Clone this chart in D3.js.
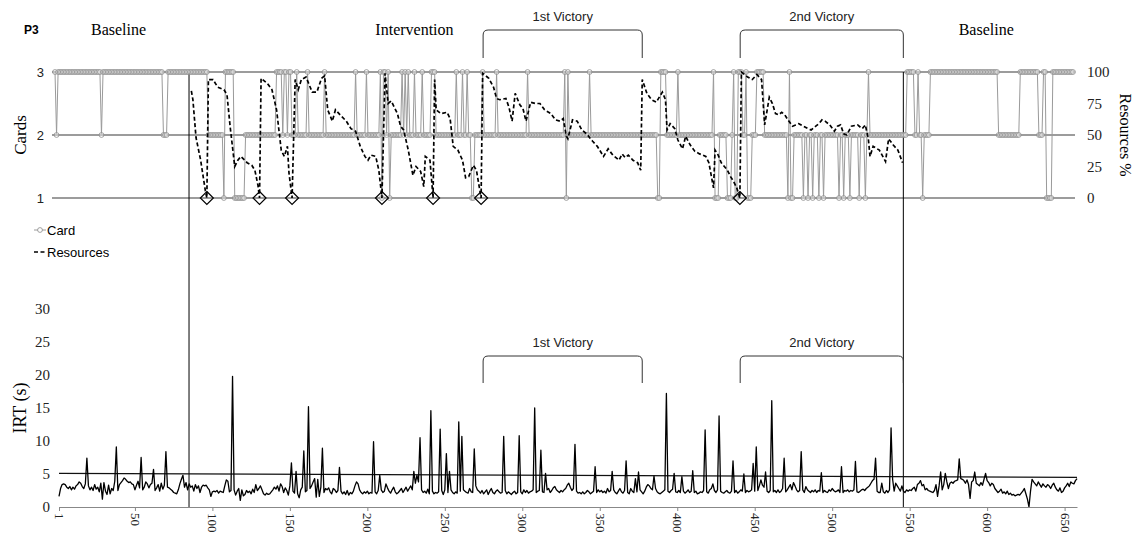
<!DOCTYPE html>
<html lang="en">
<head>
  <meta charset="UTF-8">
  <title>P3 Cards, Resources and IRT</title>
  <script src="https://d3js.org/d3.v7.min.js"></script>
  <style>
    body { margin: 0; background: #fff; }
    svg { display: block; }
  </style>
</head>
<body>
<svg id="chart" width="1141" height="538"></svg>
<script>
// ---- data ----
const nTrials = 658;

// card choice per trial as [level, run length]
const cardRuns = [
  [3,1],[2,1],[3,28],[2,1],[3,39],[2,3],[3,26],
  [2,10],[1,1],[3,6],[1,7],[2,20],
  [3,4],[2,1],[3,2],[2,1],[3,2],[2,3],[3,1],[2,6],[3,1],[2,10],[3,1],
  [2,19],[3,1],[2,6],[3,1],[2,8],
  [3,1],[1,1],[3,2],[2,1],[3,1],[1,1],[2,7],
  [3,1],[2,1],[3,1],[2,1],[3,1],[2,3],[3,1],[2,4],[3,1],[2,5],
  [3,3],[2,13],[3,1],[2,3],[3,1],[2,2],[3,1],[2,2],[1,2],[2,5],
  [3,1],[2,8],[3,1],[2,19],[3,1],[2,23],
  [3,1],[1,1],[3,1],[2,13],[3,1],[2,43],
  [1,2],[3,4],[2,7],[3,1],[2,22],
  [3,1],[1,3],[2,5],[1,3],[2,1],[3,1],[1,2],[3,3],
  [2,2],[3,1],[1,3],[2,3],[3,5],[2,15],
  [1,1],[3,1],[1,2],[2,6],
  [1,1],[2,2],[1,1],[2,2],[1,1],[2,3],[1,1],[2,2],[1,1],[2,9],[1,1],[2,2],
  [1,1],[2,3],[1,1],[2,5],[1,1],[2,3],[1,1],[2,1],[3,1],[2,22],
  [2,2],[3,5],[2,2],[3,1],[2,2],[1,1],[2,4],[3,44],[2,14],[3,12],[2,3],[3,2],[1,4],[3,14]
];

// resources % as [trial, value]
const resources = [
  [89,85],[90,78],[92,48],[95,30],[98,6],[99,0],[100,94],[103,94],[106,88],[110,86],[112,82],[114,57],
  [117,25],[119,30],[121,33],[125,28],[128,26],[130,22],[132,10],[133,0],[134,95],[138,91],[141,86],
  [144,70],[147,38],[149,33],[151,41],[152,20],[154,0],[156,94],[158,86],[160,94],[163,96],[167,84],
  [170,84],[173,95],[175,97],[177,70],[180,61],[182,70],[185,66],[189,61],[192,55],[195,53],[198,41],
  [201,33],[203,30],[205,34],[208,33],[210,22],[212,0],[214,99],[216,75],[218,77],[222,67],[224,57],
  [226,54],[229,38],[232,18],[234,25],[237,21],[239,9],[240,33],[243,30],[245,0],[246,94],[247,70],
  [250,67],[254,68],[256,63],[258,41],[261,38],[264,30],[266,16],[268,17],[271,26],[273,22],[276,0],
  [277,99],[281,95],[284,88],[286,79],[288,78],[292,79],[294,72],[296,61],[298,83],[301,74],[303,71],
  [305,61],[308,76],[311,75],[314,75],[317,70],[321,67],[324,62],[327,61],[329,63],[331,49],[332,47],
  [335,62],[338,61],[341,54],[344,51],[348,45],[351,41],[355,33],[358,39],[361,34],[365,30],[367,35],
  [369,32],[371,34],[374,30],[377,28],[379,22],[380,94],[383,83],[386,78],[389,76],[393,84],[395,78],
  [396,54],[398,59],[401,55],[403,46],[406,39],[408,49],[411,42],[414,37],[417,35],[421,33],[423,28],
  [426,8],[427,38],[429,34],[431,28],[435,22],[437,17],[439,13],[441,8],[443,0],[444,100],[448,96],
  [451,94],[454,98],[457,94],[459,58],[462,80],[464,75],[466,67],[468,66],[470,68],[472,66],[474,62],
  [477,57],[479,58],[481,59],[484,57],[487,55],[489,54],[492,57],[494,59],[496,62],[498,61],[501,58],
  [504,53],[506,57],[508,58],[510,51],[512,50],[515,57],[519,58],[522,55],[524,58],[526,46],[527,33],
  [529,41],[533,38],[537,29],[539,47],[542,42],[545,38],[548,28]
];

// inter-response time (s), trial 1..658
const irt = [
  1.6,2.8,3.4,3.5,3.4,3.0,2.8,3.1,2.6,3.0,2.7,3.2,3.4,3.8,3.6,3.1,2.8,3.5,7.4,3.2,
  2.6,3.0,2.5,3.4,2.7,3.0,2.3,3.6,1.2,3.7,2.4,1.9,3.3,2.0,2.8,2.5,3.9,9.1,2.5,3.4,
  3.7,4.0,4.4,4.2,3.9,3.7,3.8,3.5,3.4,2.6,3.3,3.9,2.9,7.5,2.6,3.0,3.8,3.5,2.9,3.4,
  3.6,5.7,2.5,2.9,3.4,2.4,3.6,2.7,3.3,8.4,3.0,2.9,2.7,2.5,2.2,2.1,2.0,2.6,3.5,4.2,
  4.8,3.0,3.7,2.6,3.5,3.0,3.2,2.4,3.4,2.8,3.2,2.2,3.0,3.3,3.2,3.3,2.9,2.6,1.6,2.3,
  2.4,2.3,2.5,2.1,2.4,2.3,2.2,3.2,4.1,3.9,2.3,2.5,19.8,2.6,1.8,2.4,2.8,1.0,2.6,1.7,
  1.9,2.5,2.2,2.4,2.0,2.7,2.2,3.4,2.5,2.8,3.2,2.6,2.0,1.8,2.1,1.9,2.0,2.3,2.6,3.0,
  2.7,3.2,2.4,3.5,3.1,2.2,2.9,2.5,1.8,3.2,6.7,2.4,2.1,5.4,2.0,1.4,2.6,3.0,8.5,2.3,
  2.5,15.2,2.8,3.2,3.8,4.3,1.5,4.2,1.6,3.0,8.9,2.2,2.8,2.6,2.9,2.3,2.0,2.8,2.6,2.2,
  2.5,6.0,2.4,2.0,2.3,1.9,2.5,1.8,2.2,2.0,2.4,3.2,3.8,3.5,2.6,2.2,2.0,2.3,2.1,2.4,
  2.0,2.2,2.1,9.9,2.3,2.0,2.5,4.8,2.6,2.2,2.4,3.5,2.9,2.4,2.1,2.6,3.0,2.3,2.0,2.2,
  2.5,2.8,2.2,2.6,3.0,2.4,2.8,3.2,2.6,5.4,3.6,4.8,3.8,10.5,2.6,2.2,2.4,2.1,2.7,2.0,
  14.6,2.4,2.0,2.2,2.1,2.3,11.8,2.5,1.9,2.6,8.1,2.2,5.4,2.6,2.2,2.0,2.3,2.1,12.9,2.4,
  10.7,2.6,2.4,2.2,2.1,2.8,2.3,2.2,8.8,3.2,2.6,2.4,2.1,2.5,2.0,2.3,2.6,1.9,2.4,2.8,
  2.2,2.0,2.4,2.6,2.3,2.1,2.2,10.7,2.5,2.0,2.3,2.1,1.9,2.2,2.4,2.0,2.2,10.8,2.3,2.0,
  2.6,2.2,2.5,2.1,2.3,2.4,2.6,15.0,2.2,2.4,2.5,8.6,2.3,2.2,5.1,2.6,2.8,2.2,2.5,2.9,
  3.1,2.6,2.4,2.2,2.5,2.3,2.6,2.8,3.3,3.6,3.0,2.5,2.8,9.5,2.4,2.1,2.2,2.0,2.3,2.0,
  2.2,2.5,2.3,2.0,2.2,2.4,6.1,2.2,2.6,2.3,2.5,2.2,2.4,2.1,2.8,2.3,2.5,5.4,2.6,2.2,
  2.0,2.4,2.8,2.3,2.1,2.5,7.0,2.2,2.0,2.8,2.4,2.2,4.3,2.3,5.3,2.6,2.3,2.0,2.4,3.0,
  3.4,3.2,2.8,2.6,4.7,2.8,2.3,2.1,2.0,2.2,2.4,2.6,17.2,2.4,2.2,2.5,2.7,5.1,2.3,2.2,
  2.5,2.2,4.6,2.4,2.1,2.3,2.6,2.2,2.4,5.5,2.2,2.4,2.0,2.1,2.3,2.2,2.5,11.7,2.3,2.1,
  2.6,2.8,3.5,2.5,2.2,2.6,13.8,2.4,2.2,2.1,2.3,2.5,2.2,2.1,2.4,7.0,2.2,2.5,2.1,2.3,
  2.6,2.4,5.0,2.2,2.5,2.3,2.4,2.6,6.6,2.4,9.1,2.5,3.2,4.1,3.3,3.0,5.3,2.4,2.2,2.5,
  16.1,2.3,2.5,2.2,2.6,2.2,2.4,2.8,7.4,2.3,2.6,3.0,3.4,2.6,3.7,3.2,2.6,2.3,2.5,8.4,
  2.6,2.2,3.1,2.6,2.4,2.2,2.5,2.3,2.6,2.2,2.5,2.4,5.2,2.2,2.5,2.3,2.2,2.6,2.4,2.8,
  2.5,2.3,2.4,2.6,2.2,6.1,2.2,2.5,2.4,2.6,2.3,2.5,2.4,2.6,6.9,2.3,2.2,2.4,2.6,2.7,
  2.5,2.8,3.0,3.2,3.6,4.0,4.2,7.4,2.4,2.2,2.2,3.6,2.3,2.1,2.5,2.2,2.6,12.0,4.2,2.4,
  3.6,3.2,2.8,2.4,3.2,2.4,2.2,2.6,2.4,2.6,2.5,2.8,3.0,2.4,3.4,3.6,4.0,3.2,3.4,2.6,
  2.8,2.5,2.4,2.3,2.2,2.5,3.4,1.6,3.2,5.3,2.6,3.4,5.1,3.8,2.8,3.6,3.8,3.6,3.9,4.0,
  4.1,7.3,4.3,4.2,4.0,3.6,4.1,3.4,1.3,3.8,4.0,5.3,3.6,3.4,3.2,3.7,3.3,4.2,5.1,4.0,
  3.7,3.2,3.6,3.4,2.8,2.5,2.2,2.4,2.7,2.1,2.3,2.0,2.4,1.9,2.1,1.8,1.9,1.7,1.8,1.9,
  1.8,2.1,2.4,2.8,2.0,1.2,0.0,2.4,4.2,3.8,3.5,3.2,3.8,3.4,3.0,3.5,3.2,3.0,3.4,3.2,
  2.8,3.3,3.6,3.0,2.6,2.4,2.9,2.2,2.4,2.9,3.2,3.6,3.1,3.8,3.6,3.5,4.0,4.3
];

// linear trend of IRT, end points
const irtTrend = [[1, 5.1], [658, 4.5]];

// phase boundaries (trial) and labels
const phaseBreaks = [87.5, 548.5];
const phaseLabels = [["Baseline", 42], ["Intervention", 233], ["Baseline", 602]];
const victories = [["1st Victory", 277.3, 380], ["2nd Victory", 443.2, 548.5]];

const cardTicks = [1, 2, 3];
const resTicks = [0, 25, 50, 75, 100];
const irtTicks = [0, 5, 10, 15, 20, 25, 30];
const trialTicks = [1, 50, 100, 150, 200, 250, 300, 350, 400, 450, 500, 550, 600, 650];

// ---- expand card runs ----
const cards = [];
cardRuns.forEach(([level, count]) => {
  for (let i = 0; i < count; i++) cards.push({ trial: cards.length + 1, level });
});
const irtData = irt.map((v, i) => ({ trial: i + 1, v }));

// ---- scales ----
const svg = d3.select("#chart");
const serif = "'Liberation Serif', 'Times New Roman', serif";
const sans = "'Liberation Sans', Arial, sans-serif";

const xTop = d3.scaleLinear().domain([1, nTrials]).range([55, 1073]);
const yCard = d3.scaleLinear().domain([1, 3]).range([198, 72]);
const yRes = d3.scaleLinear().domain([0, 100]).range([198, 72]);
const xBot = d3.scaleLinear().domain([1, nTrials]).range([59, 1077]);
const yIrt = d3.scaleLinear().domain([0, 30]).range([507, 309]);

// ---- top panel ----
svg.append("g").selectAll("line")
  .data(cardTicks)
  .join("line")
  .attr("x1", 52).attr("x2", 1075)
  .attr("y1", d => yCard(d)).attr("y2", d => yCard(d))
  .attr("stroke", "#3a3a3a").attr("stroke-width", 1.2);

// phase lines across both panels
svg.append("g").selectAll("line")
  .data(phaseBreaks)
  .join("line")
  .attr("x1", d => xTop(d)).attr("x2", d => xTop(d))
  .attr("y1", yCard(3)).attr("y2", yIrt(0))
  .attr("stroke", "#000").attr("stroke-width", 1);

svg.append("path")
  .datum(cards)
  .attr("fill", "none")
  .attr("stroke", "#9a9a9a")
  .attr("stroke-width", 1)
  .attr("d", d3.line().x(d => xTop(d.trial)).y(d => yCard(d.level)));

svg.append("g").selectAll("circle")
  .data(cards)
  .join("circle")
  .attr("cx", d => xTop(d.trial))
  .attr("cy", d => yCard(d.level))
  .attr("r", 2.4)
  .attr("fill", "#fff")
  .attr("fill-opacity", 0.4)
  .attr("stroke", "#8a8a8a")
  .attr("stroke-width", 0.8);

svg.append("path")
  .datum(resources)
  .attr("fill", "none")
  .attr("stroke", "#000")
  .attr("stroke-width", 1.7)
  .attr("stroke-dasharray", "4,2.5")
  .attr("d", d3.line().x(d => xTop(d[0])).y(d => yRes(d[1])));

svg.append("g").selectAll("path")
  .data(resources.filter(d => d[1] === 0))
  .join("path")
  .attr("transform", d => `translate(${xTop(d[0])},${yRes(d[1])})`)
  .attr("d", "M0,-6.5L6.5,0L0,6.5L-6.5,0Z")
  .attr("fill", "none")
  .attr("stroke", "#000")
  .attr("stroke-width", 1.2);

// left card axis
svg.append("g")
  .attr("transform", "translate(44,0)")
  .call(d3.axisLeft(yCard).tickValues(cardTicks).tickSize(0).tickPadding(0).tickFormat(d3.format("d")))
  .call(g => g.select(".domain").remove())
  .selectAll("text")
  .attr("font-family", sans).attr("font-size", 13).attr("fill", "#222");

// right resources axis
svg.append("g")
  .attr("transform", "translate(1085,0)")
  .call(d3.axisRight(yRes).tickValues(resTicks).tickSize(0).tickPadding(2))
  .call(g => g.select(".domain").remove())
  .selectAll("text")
  .attr("font-family", serif).attr("font-size", 15).attr("fill", "#222");

svg.append("text")
  .attr("transform", `translate(26,${yCard(2)}) rotate(-90)`)
  .attr("text-anchor", "middle")
  .attr("font-family", serif).attr("font-size", 17)
  .text("Cards");

svg.append("text")
  .attr("transform", `translate(1120,${yRes(50)}) rotate(90)`)
  .attr("text-anchor", "middle")
  .attr("font-family", serif).attr("font-size", 16)
  .text("Resources %");

svg.append("text")
  .attr("x", 24).attr("y", 34)
  .attr("font-family", sans).attr("font-size", 12).attr("font-weight", "bold")
  .text("P3");

svg.append("g").selectAll("text")
  .data(phaseLabels)
  .join("text")
  .attr("x", d => xTop(d[1])).attr("y", 35)
  .attr("text-anchor", "middle")
  .attr("font-family", serif).attr("font-size", 16)
  .text(d => d[0]);

// legend
const legend = svg.append("g").attr("font-family", sans).attr("font-size", 13);
legend.append("line").attr("x1", 34).attr("x2", 46).attr("y1", 230).attr("y2", 230)
  .attr("stroke", "#9a9a9a");
legend.append("circle").attr("cx", 40).attr("cy", 230).attr("r", 2.4)
  .attr("fill", "#fff").attr("stroke", "#8a8a8a").attr("stroke-width", 0.8);
legend.append("text").attr("x", 47).attr("y", 235).text("Card");
legend.append("line").attr("x1", 34).attr("x2", 46).attr("y1", 252).attr("y2", 252)
  .attr("stroke", "#000").attr("stroke-width", 1.7).attr("stroke-dasharray", "4,2.5");
legend.append("text").attr("x", 47).attr("y", 257).text("Resources");

// victory brackets, top and bottom
function bracket(x0, x1, yTop, yEnd) {
  const r = 5;
  return `M${x0},${yEnd}L${x0},${yTop + r}Q${x0},${yTop} ${x0 + r},${yTop}` +
    `L${x1 - r},${yTop}Q${x1},${yTop} ${x1},${yTop + r}L${x1},${yEnd}`;
}
[[30, 58, 21], [356, 383, 347]].forEach(([yT, yE, yL]) => {
  const g = svg.append("g");
  g.selectAll("path")
    .data(victories)
    .join("path")
    .attr("d", d => bracket(xTop(d[1]), xTop(d[2]), yT, yE))
    .attr("fill", "none").attr("stroke", "#333").attr("stroke-width", 1);
  g.selectAll("text")
    .data(victories)
    .join("text")
    .attr("x", d => (xTop(d[1]) + xTop(d[2])) / 2).attr("y", yL)
    .attr("text-anchor", "middle")
    .attr("font-family", sans).attr("font-size", 13).attr("fill", "#222")
    .text(d => d[0]);
});

// ---- bottom panel ----
svg.append("path")
  .datum(irtTrend)
  .attr("fill", "none")
  .attr("stroke", "#111").attr("stroke-width", 1.2)
  .attr("d", d3.line().x(d => xBot(d[0])).y(d => yIrt(d[1])));

svg.append("path")
  .datum(irtData)
  .attr("fill", "none")
  .attr("stroke", "#000").attr("stroke-width", 1.3)
  .attr("stroke-linejoin", "round")
  .attr("d", d3.line().x(d => xBot(d.trial)).y(d => yIrt(d.v)));

const xAxis = svg.append("g")
  .attr("transform", `translate(0,${yIrt(0)})`)
  .call(d3.axisBottom(xBot).tickValues(trialTicks).tickSize(4).tickSizeOuter(0).tickPadding(5));
xAxis.select(".domain").attr("stroke", "#888");
xAxis.selectAll(".tick line").attr("stroke", "#888");
xAxis.selectAll("text")
  .attr("font-family", serif).attr("font-size", 13).attr("fill", "#222")
  .attr("text-anchor", "start")
  .attr("dy", "0.35em")
  .attr("transform", "rotate(90)")
  .attr("x", 6).attr("y", 0);

svg.append("g")
  .attr("transform", "translate(50,0)")
  .call(d3.axisLeft(yIrt).tickValues(irtTicks).tickSize(0).tickPadding(0))
  .call(g => g.select(".domain").remove())
  .selectAll("text")
  .attr("font-family", serif).attr("font-size", 15).attr("fill", "#222");

svg.append("text")
  .attr("transform", `translate(26,${yIrt(15)}) rotate(-90)`)
  .attr("text-anchor", "middle")
  .attr("font-family", serif).attr("font-size", 18)
  .text("IRT (s)");
</script>
</body>
</html>
